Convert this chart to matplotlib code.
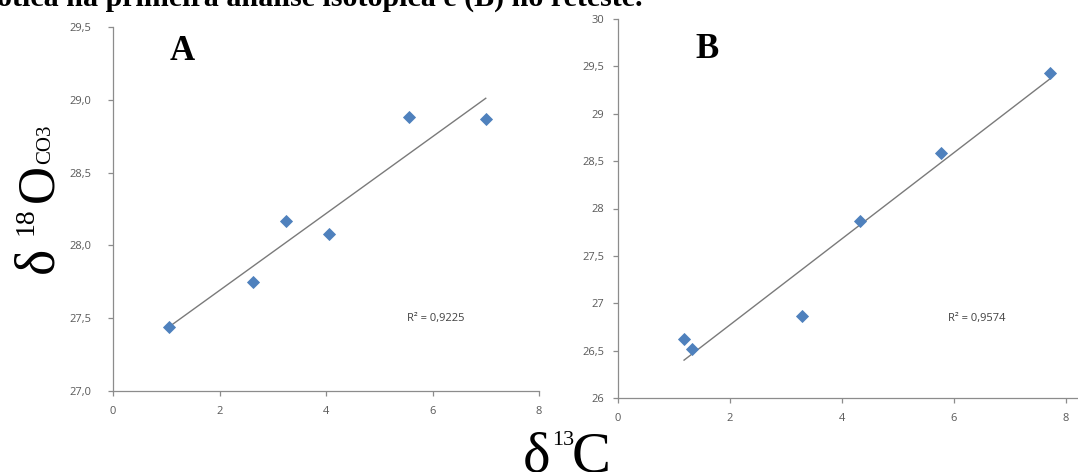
import numpy as np
import matplotlib
matplotlib.use("Agg")
import matplotlib.pyplot as plt

# ---- data ----
xa = [1.06, 2.62, 3.25, 4.06, 5.55, 7.0]
ya = [27.44, 27.75, 28.17, 28.08, 28.88, 28.87]
xb = [1.18, 1.32, 3.28, 4.33, 5.77, 7.72]
yb = [26.62, 26.52, 26.87, 27.87, 28.59, 29.43]
r2_a = "R² = 0,9225"
r2_b = "R² = 0,9574"
xticks = [0, 2, 4, 6, 8]
yticks_a = [27.0, 27.5, 28.0, 28.5, 29.0, 29.5]
yticklabels_a = ["27,0", "27,5", "28,0", "28,5", "29,0", "29,5"]
yticks_b = [26, 26.5, 27, 27.5, 28, 28.5, 29, 29.5, 30]
yticklabels_b = ["26", "26,5", "27", "27,5", "28", "28,5", "29", "29,5", "30"]
caption = "ótica na primeira análise isotópica e (B) no reteste."

W, H = 1078, 472
fig = plt.figure(figsize=(W / 100, H / 100), dpi=100)
fig.patch.set_facecolor("white")

def fx(x):
    return x / W

def fy(y):
    return 1 - y / H

BLUE = "#4F81BD"
AXC = "#8C8C8C"
TXC = "#595959"
TF = "Open Sans"

def style(ax, ypad, xpad):
    for s in ["top", "right"]:
        ax.spines[s].set_visible(False)
    for s in ["left", "bottom"]:
        ax.spines[s].set_color(AXC)
        ax.spines[s].set_linewidth(0.9)
    ax.tick_params(axis="both", direction="out", length=3.5, width=0.9,
                   color=AXC, labelcolor=TXC, labelsize=8)
    ax.tick_params(axis="y", pad=ypad)
    ax.tick_params(axis="x", pad=xpad)
    for lab in ax.get_xticklabels() + ax.get_yticklabels():
        lab.set_fontfamily(TF)

def panel(ax, x, y):
    ax.plot(x, y, linestyle="none", marker="D", ms=5.9, mfc=BLUE, mec=BLUE,
            mew=0.6, zorder=3)
    c = np.polyfit(x, y, 1)
    xs = np.array([min(x), max(x)])
    ax.plot(xs, np.polyval(c, xs), color="#7A7A7A", lw=1.0, zorder=2)

# Panel A
ax_a = fig.add_axes([fx(113), fy(391), 426 / W, 364 / H])
panel(ax_a, xa, ya)
ax_a.set_xlim(0, 8)
ax_a.set_ylim(27.0, 29.5)
ax_a.set_xticks(xticks)
ax_a.set_xticklabels([str(t) for t in xticks])
ax_a.set_yticks(yticks_a)
ax_a.set_yticklabels(yticklabels_a)
style(ax_a, 12, 7.5)

# Panel B
ax_b = fig.add_axes([fx(618), fy(398), 459 / W, 379 / H])
panel(ax_b, xb, yb)
ax_b.set_xlim(0, 8.2)
ax_b.set_ylim(26, 30)
ax_b.set_xticks(xticks)
ax_b.set_xticklabels([str(t) for t in xticks])
ax_b.set_yticks(yticks_b)
ax_b.set_yticklabels(yticklabels_b)
style(ax_b, 6.5, 7.5)

# R^2 annotations
fig.text(fx(407), fy(319), r2_a, fontsize=8, color="#404040",
         family=TF, ha="left", va="center")
fig.text(fx(948), fy(318), r2_b, fontsize=8, color="#404040",
         family=TF, ha="left", va="center")

SERIF = "Liberation Serif"
# panel letters
fig.text(fx(182), fy(52), "A", fontsize=25, fontweight="bold", family=SERIF,
         ha="center", va="center")
fig.text(fx(707), fy(50), "B", fontsize=25, fontweight="bold", family=SERIF,
         ha="center", va="center")

# clipped caption at top
fig.text(fx(643), fy(6), caption, fontsize=21.6, fontweight="bold", family=SERIF,
         ha="right", va="baseline")

# y label pieces (rotated)
rk = dict(rotation=90, rotation_mode="anchor", ha="left", va="baseline",
          family=SERIF, color="black")
fig.text(fx(52), fy(273), "δ", fontsize=40, **rk)
fig.text(fx(33), fy(235), "18", fontsize=20, **rk)
fig.text(fx(52), fy(202), "O", fontsize=38, **rk)
fig.text(fx(50), fy(164), "CO3", fontsize=15, **rk)

# x label pieces
hk = dict(ha="left", va="baseline", family=SERIF, color="black")
fig.text(fx(523), fy(471), "δ", fontsize=42, **hk)
fig.text(fx(552), fy(445), "13", fontsize=16, **hk)
fig.text(fx(572), fy(472), "C", fontsize=42, **hk)

fig.savefig("out.png", dpi=100, facecolor="white")
